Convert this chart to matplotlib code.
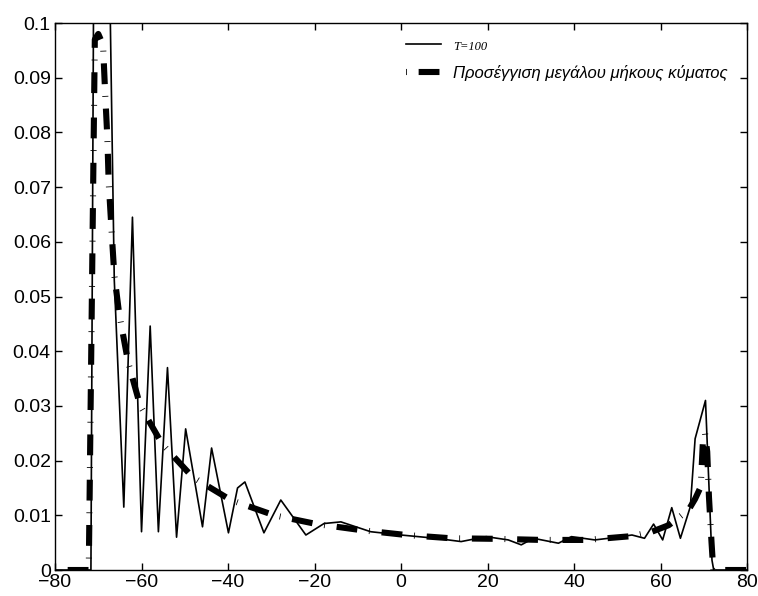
import matplotlib
matplotlib.use("Agg")
import matplotlib.pyplot as plt

plt.rcParams['font.family'] = ['Liberation Sans', 'DejaVu Sans']
plt.rcParams['lines.scale_dashes'] = False

# T=100 solution
x_t100 = [-80, -72.0, -71.7, -71.0, -69.2, -67.4, -66.3, -64.1, -62.1, -60.0,
          -58.0, -56.1, -54.0, -51.9, -49.8, -45.9, -43.8, -39.9, -37.8, -36.1,
          -31.7, -27.8, -22.0, -17.8, -13.9, -7.0, 0.0, 8.0, 13.9, 19.7,
          24.8, 27.8, 30.6, 36.4, 39.4, 44.8, 48.0, 53.4, 56.3, 58.4,
          60.5, 62.6, 64.6, 66.9, 68.0, 70.4, 71.9, 72.3, 80]
y_t100 = [0, 0, 0, 0.12, 0.14, 0.11, 0.053, 0.0115, 0.0645, 0.007,
          0.0446, 0.007, 0.037, 0.006, 0.0258, 0.0079, 0.0223, 0.0068, 0.015, 0.0161,
          0.0068, 0.0128, 0.0064, 0.0085, 0.0088, 0.0070, 0.0064, 0.0058, 0.0052, 0.0061,
          0.0055, 0.0046, 0.0058, 0.0049, 0.0061, 0.0055, 0.0058, 0.0064, 0.0058, 0.0084,
          0.0055, 0.0114, 0.0058, 0.0116, 0.024, 0.031, 0.0018, 0.0, 0]

# long-wave approximation
x_lw = [-80, -72.2, -70.8, -70.0, -68.9, -68.4, -67.9, -67.6, -67.0, -66.3,
        -65.2, -63.1, -60.3, -55.2, -48.2, -39.4, -29.3, -19.5, -9.3, 1.2,
        11.6, 22.0, 32.5, 42.9, 53.4, 58.0, 61.9, 63.4, 66.5, 68.0,
        69.3, 69.8, 70.3, 70.8, 71.2, 71.8, 72.2, 80]
y_lw = [0, 0, 0.097, 0.098, 0.096, 0.087, 0.079, 0.071, 0.063, 0.054,
        0.047, 0.038, 0.030, 0.023, 0.017, 0.0128, 0.0100, 0.0084, 0.0073, 0.0064,
        0.0058, 0.0057, 0.0055, 0.0055, 0.0062, 0.0070, 0.0082, 0.0091, 0.011, 0.013,
        0.0152, 0.0235, 0.025, 0.0216, 0.0134, 0.005, 0.0, 0]

x_ticks = [-80, -60, -40, -20, 0, 20, 40, 60, 80]
y_ticks = [0, 0.01, 0.02, 0.03, 0.04, 0.05, 0.06, 0.07, 0.08, 0.09, 0.1]
y_ticklabels = ['0', '0.01', '0.02', '0.03', '0.04', '0.05', '0.06', '0.07', '0.08', '0.09', '0.1']

fig = plt.figure(figsize=(7.58, 5.96), dpi=100)
ax = fig.add_axes([0.0726, 0.0436, 0.9129, 0.9178])

ax.plot(x_t100, y_t100, color='black', lw=1.2, label='T=100')
# dash-dot pattern, starting on the dot so the legend handle looks like the original
ax.plot(x_lw, y_lw, color='black', lw=4.4, linestyle=(23.5, (15, 8.5, 0.6, 8.5)),
        dash_capstyle='butt', label='Προσέγγιση μεγάλου μήκους κύματος')

ax.set_xlim(-80, 80)
ax.set_ylim(0, 0.1)
ax.set_xticks(x_ticks)
ax.set_yticks(y_ticks)
ax.set_yticklabels(y_ticklabels)
ax.tick_params(direction='in', length=5, width=1, labelsize=14,
               top=True, right=True, pad=3)
for s in ax.spines.values():
    s.set_linewidth(1.0)

leg = ax.legend(loc='upper left', bbox_to_anchor=(0.485, 1.0), frameon=False,
                handlelength=2.1, handletextpad=0.75, labelspacing=0.72,
                prop={'size': 12, 'style': 'italic'})
leg.get_texts()[0].set_fontfamily('Liberation Serif')
leg.get_texts()[0].set_fontsize(9)

fig.savefig('out.png', dpi=100)
